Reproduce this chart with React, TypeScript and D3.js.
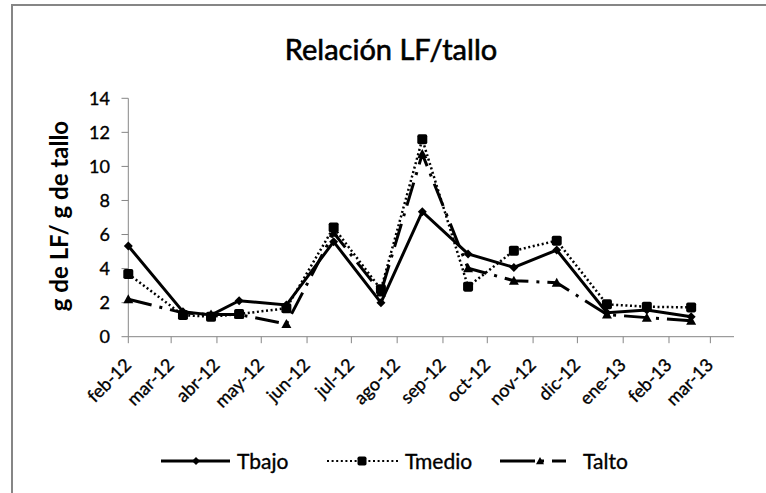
import React from "react";
import * as d3 from "d3";

const dates = [
  "2012-02-01", "2012-03-09", "2012-03-28", "2012-04-16", "2012-05-18", "2012-06-19", "2012-07-21",
  "2012-08-18", "2012-09-18", "2012-10-19", "2012-11-17", "2012-12-21", "2013-01-17", "2013-02-16",
];
const tbajo = [5.33, 1.47, 1.27, 2.11, 1.86, 5.58, 2.0, 7.34, 4.86, 4.07, 5.09, 1.41, 1.57, 1.17];
const tmedio = [3.68, 1.27, 1.17, 1.33, 1.67, 6.42, 2.78, 11.59, 2.94, 5.05, 5.64, 1.9, 1.76, 1.72];
const talto = [2.2, 1.4, 1.3, 1.3, 0.75, 6.1, 2.6, 10.73, 4.02, 3.29, 3.17, 1.3, 1.12, 0.94];
const seriesNames = ["Tbajo", "Tmedio", "Talto"];
const monthLabels = [
  "feb-12", "mar-12", "abr-12", "may-12", "jun-12", "jul-12", "ago-12",
  "sep-12", "oct-12", "nov-12", "dic-12", "ene-13", "feb-13", "mar-13",
];
const yTicks = [0, 2, 4, 6, 8, 10, 12, 14];
const axisStart = "2012-02-01";
const axisEnd = "2013-03-17";

const W = 766;
const H = 493;
const FONT = "Lato, 'Open Sans', sans-serif";
const AXIS = "#868686";

const parse = (s: string) => {
  const [y, m, d] = s.split("-").map(Number);
  return new Date(y, m - 1, d);
};

export default function App() {
  const x = d3.scaleTime().domain([parse(axisStart), parse(axisEnd)]).range([128.3, 734]);
  const y = d3.scaleLinear().domain([0, 14]).range([336.7, 98.3]);
  const tickDates = monthLabels.map((_, i) => new Date(2012, 1 + i, 1));

  const mk = (vals: number[]) =>
    vals.map((v, i) => ({ x: x(parse(dates[i])), y: y(v) }));
  const line = d3.line<{ x: number; y: number }>().x((d) => d.x).y((d) => d.y);

  const pBajo = mk(tbajo);
  const pMedio = mk(tmedio);
  const pAlto = mk(talto);

  const diamond = (cx: number, cy: number, r = 4.5) =>
    `M${cx},${cy - r}L${cx + r},${cy}L${cx},${cy + r}L${cx - r},${cy}Z`;
  const triangle = (cx: number, cy: number, r = 5) =>
    `M${cx},${cy - r}L${cx + r},${cy + r * 0.8}L${cx - r},${cy + r * 0.8}Z`;
  const square = (cx: number, cy: number, key: string | number, s = 10) => (
    <rect key={key} x={cx - s / 2} y={cy - s / 2} width={s} height={s} rx={1.8} fill="#000" />
  );

  const altoDash = "24 8 3 8";
  const medioDash = "2 2.6";

  const legendY = 461;
  const heavy = { stroke: "#000", strokeWidth: 0.35 };

  return (
    <div style={{ position: "absolute", left: 0, top: 0 }}>
      <svg width={W} height={H} style={{ display: "block", background: "#fff" }}>
        <rect x={12} y={5} width={800} height={600} fill="#fff" stroke={AXIS} strokeWidth={2} />

        <text x={391} y={60} textAnchor="middle" fontFamily={FONT} fontSize={29} fill="#000" stroke="#000" strokeWidth={0.6}>
          Relación LF/tallo
        </text>

        {/* y axis */}
        <line x1={128.3} x2={128.3} y1={y(14)} y2={y(0)} stroke={AXIS} strokeWidth={1} />
        {yTicks.map((t) => (
          <g key={t}>
            <line x1={121.5} x2={128.3} y1={y(t)} y2={y(t)} stroke={AXIS} strokeWidth={1} />
            <text x={110} y={y(t)} dy="0.36em" textAnchor="end" fontFamily={FONT} fontSize={18} fill="#000" {...heavy}>
              {t}
            </text>
          </g>
        ))}
        <text
          transform={`translate(68,216) rotate(-90)`}
          textAnchor="middle"
          fontFamily={FONT}
          fontSize={24}
          fontWeight="bold"
          fill="#000"
        >
          g de LF/ g de tallo
        </text>

        {/* x axis */}
        <line x1={128.3} x2={734} y1={y(0)} y2={y(0)} stroke={AXIS} strokeWidth={1} />
        {tickDates.map((d, i) => (
          <g key={i}>
            <line x1={x(d)} x2={x(d)} y1={y(0)} y2={y(0) + 6.5} stroke={AXIS} strokeWidth={1} />
            <text
              transform={`translate(${x(d) + 4},${366}) rotate(-45)`}
              textAnchor="end"
              fontFamily={FONT}
              fontSize={18}
              fill="#000"
              {...heavy}
            >
              {monthLabels[i]}
            </text>
          </g>
        ))}

        {/* series */}
        <path d={line(pAlto) || ""} fill="none" stroke="#000" strokeWidth={3} strokeDasharray={altoDash} />
        {pAlto.map((p, i) => (
          <path key={i} d={triangle(p.x, p.y)} fill="#000" />
        ))}
        <path d={line(pMedio) || ""} fill="none" stroke="#000" strokeWidth={2.5} strokeDasharray={medioDash} />
        {pMedio.map((p, i) => square(p.x, p.y, i))}
        <path d={line(pBajo) || ""} fill="none" stroke="#000" strokeWidth={3} />
        {pBajo.map((p, i) => (
          <path key={i} d={diamond(p.x, p.y)} fill="#000" />
        ))}

        {/* legend */}
        <g>
          <line x1={161} x2={230} y1={legendY} y2={legendY} stroke="#000" strokeWidth={3} />
          <path d={diamond(196, legendY, 4)} fill="#000" />
          <text x={237} y={legendY} dy="0.36em" fontFamily={FONT} fontSize={21} fill="#000" {...heavy}>
            {seriesNames[0]}
          </text>

          <line x1={327} x2={398} y1={legendY} y2={legendY} stroke="#000" strokeWidth={2} strokeDasharray={medioDash} />
          {square(362, legendY, "lg", 9)}
          <text x={405} y={legendY} dy="0.36em" fontFamily={FONT} fontSize={21} fill="#000" {...heavy}>
            {seriesNames[1]}
          </text>

          <line x1={500} x2={577} y1={legendY} y2={legendY} stroke="#000" strokeWidth={3} strokeDasharray="35 6 3 8 14 40" />
          <path d={triangle(540, legendY, 4)} fill="#000" />
          <text x={583} y={legendY} dy="0.36em" fontFamily={FONT} fontSize={21} fill="#000" {...heavy}>
            {seriesNames[2]}
          </text>
        </g>
      </svg>
    </div>
  );
}
